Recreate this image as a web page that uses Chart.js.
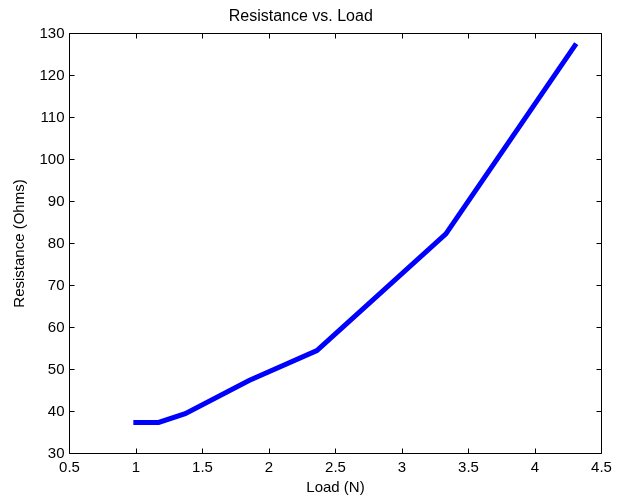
<!DOCTYPE html>
<html>
<head>
<meta charset="utf-8">
<script src="https://cdn.jsdelivr.net/npm/chart.js@4/dist/chart.umd.min.js"></script>
<style>
  html, body { margin: 0; padding: 0; background: #ffffff; }
  #c { display: block; }
</style>
</head>
<body>
<canvas id="c" width="622" height="500"></canvas>
<script>
// ---- data ----
const loadN = [0.98, 1.17, 1.37, 1.85, 2.36, 3.33, 4.31];
const resistanceOhms = [37.4, 37.4, 39.5, 47.4, 54.5, 82.3, 127.6];

const xTickValues = [0.5, 1, 1.5, 2, 2.5, 3, 3.5, 4, 4.5];
const xTickLabels = ['0.5', '1', '1.5', '2', '2.5', '3', '3.5', '4', '4.5'];
const yTickValues = [30, 40, 50, 60, 70, 80, 90, 100, 110, 120, 130];
const yTickLabels = ['30', '40', '50', '60', '70', '80', '90', '100', '110', '120', '130'];

const chartTitle = 'Resistance vs. Load';
const xTitle = 'Load (N)';
const yTitle = 'Resistance (Ohms)';

const FONT = '"Liberation Sans", Arial, Helvetica, sans-serif';

// box + inward ticks like MATLAB axes
const matlabAxes = {
  id: 'matlabAxes',
  afterDatasetsDraw(chart) {
    const {ctx, chartArea: a, scales: {x, y}} = chart;
    const L = Math.floor(a.left) + 0.5, R = Math.floor(a.right) + 0.5;
    const T = Math.floor(a.top) + 0.5, B = Math.floor(a.bottom) + 0.5;
    const len = 5;
    ctx.save();
    ctx.strokeStyle = '#000000';
    ctx.lineWidth = 1;
    ctx.beginPath();
    ctx.rect(L, T, R - L, B - T);
    ctx.stroke();
    ctx.beginPath();
    x.ticks.forEach(t => {
      const px = Math.floor(x.getPixelForValue(t.value)) + 0.5;
      ctx.moveTo(px, B); ctx.lineTo(px, B - len);
      ctx.moveTo(px, T); ctx.lineTo(px, T + len);
    });
    y.ticks.forEach(t => {
      const py = Math.floor(y.getPixelForValue(t.value)) + 0.5;
      ctx.moveTo(L, py); ctx.lineTo(L + len, py);
      ctx.moveTo(R, py); ctx.lineTo(R - len, py);
    });
    ctx.stroke();
    ctx.restore();
  }
};

new Chart(document.getElementById('c'), {
  type: 'line',
  data: {
    datasets: [{
      data: loadN.map((v, i) => ({x: v, y: resistanceOhms[i]})),
      borderColor: '#0000FF',
      borderWidth: 5,
      pointRadius: 0,
      tension: 0,
      fill: false
    }]
  },
  options: {
    responsive: false,
    animation: false,
    devicePixelRatio: 1,
    layout: { padding: { left: 0, right: 20.5, top: 0, bottom: 0 } },
    plugins: {
      legend: { display: false },
      tooltip: { enabled: false },
      title: {
        display: true,
        text: chartTitle,
        color: '#000000',
        font: { family: FONT, size: 16, weight: 'normal', lineHeight: 1.2 },
        padding: { top: 7, bottom: 7.3 }
      }
    },
    scales: {
      x: {
        type: 'linear',
        min: 0.5,
        max: 4.5,
        afterBuildTicks: s => { s.ticks = xTickValues.map(v => ({value: v})); },
        afterFit: s => { s.height = 46.5; },
        grid: { display: false, drawTicks: false },
        border: { display: false },
        ticks: {
          color: '#000000',
          font: { family: FONT, size: 15, lineHeight: 1.2 },
          padding: 5,
          maxRotation: 0,
          autoSkip: false,
          callback: (v, i) => xTickLabels[i]
        },
        title: {
          display: true,
          text: xTitle,
          color: '#000000',
          font: { family: FONT, size: 15, lineHeight: 1.2 },
          padding: { top: 0, bottom: 3 }
        }
      },
      y: {
        type: 'linear',
        min: 30,
        max: 130,
        afterBuildTicks: s => { s.ticks = yTickValues.map(v => ({value: v})); },
        afterFit: s => { s.width = 69.5; },
        grid: { display: false, drawTicks: false },
        border: { display: false },
        ticks: {
          color: '#000000',
          font: { family: FONT, size: 15, lineHeight: 1.2 },
          padding: 5,
          autoSkip: false,
          callback: (v, i) => yTickLabels[i]
        },
        title: {
          display: true,
          text: yTitle,
          color: '#000000',
          font: { family: FONT, size: 15, lineHeight: 1.2 },
          padding: { top: 10.5, bottom: 0 }
        }
      }
    }
  },
  plugins: [matlabAxes]
});
</script>
</body>
</html>
